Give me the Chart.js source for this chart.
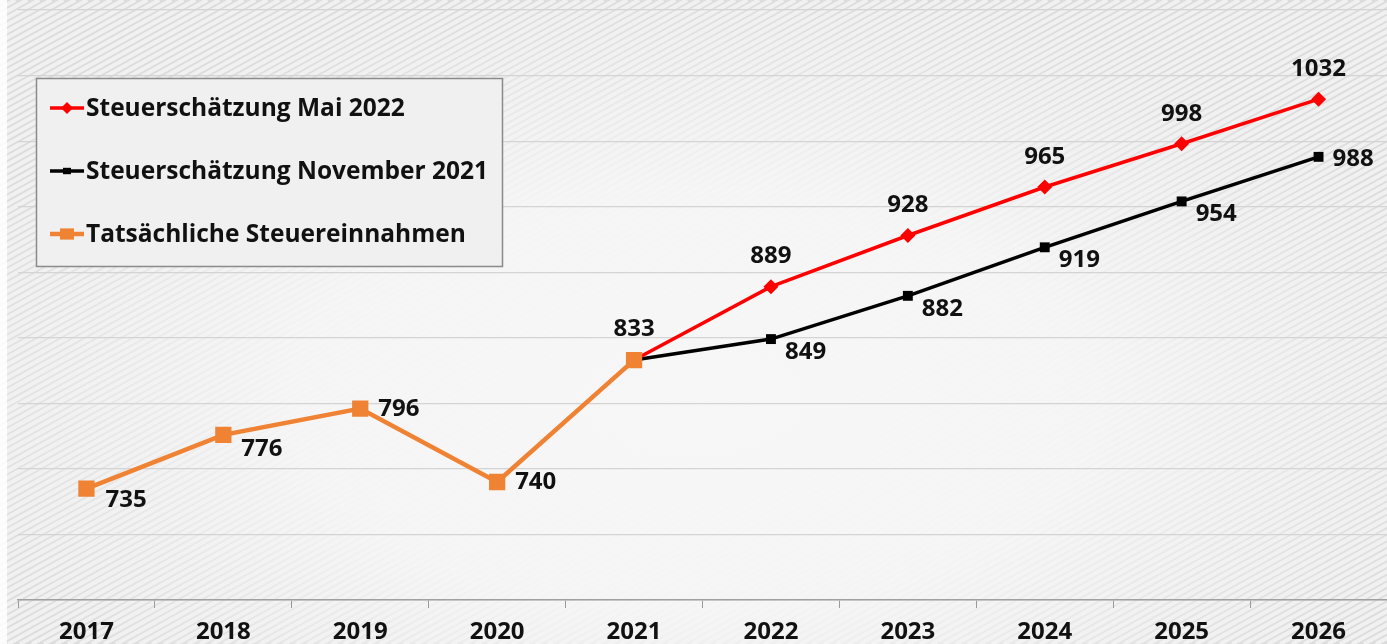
<!DOCTYPE html>
<html>
<head>
<meta charset="utf-8">
<script src="https://cdn.jsdelivr.net/npm/chart.js@4/dist/chart.umd.min.js"></script>
<style>
html,body{margin:0;padding:0;background:#fff;}
#wrap{position:relative;width:1387px;height:644px;}
</style>
</head>
<body>
<div id="wrap"><canvas id="c" width="1387" height="644"></canvas></div>
<script>
// ---- data ----
const years = ['2017','2018','2019','2020','2021','2022','2023','2024','2025','2026'];
const mai2022 = [null, null, null, null, 833, 889, 928, 965, 998, 1032];
const nov2021 = [null, null, null, null, 833, 849, 882, 919, 954, 988];
const actual  = [735, 776, 796, 740, 833, null, null, null, null, null];
const seriesNames = ['Steuerschätzung Mai 2022', 'Steuerschätzung November 2021', 'Tatsächliche Steuereinnahmen'];
const yMin = 650, yMax = 1100, yStep = 50;

const FONT = '"Open Sans", "Noto Sans", sans-serif';

// background plugin
const bgPlugin = {
  id: 'bg',
  beforeDraw(chart) {
    const ctx = chart.ctx, W = chart.width, H = chart.height;
    ctx.save();
    ctx.fillStyle = '#dcdcdc';
    ctx.fillRect(0, 0, W, H);
    ctx.strokeStyle = 'rgba(255,255,255,0.6)';
    ctx.lineWidth = 4;
    for (let k = -H * 2; k < W + H * 2; k += 12) {
      ctx.beginPath();
      ctx.moveTo(k, H);
      ctx.lineTo(k + H * 1.8, 0);
      ctx.stroke();
    }
    ctx.translate(W / 2, H * 0.62);
    ctx.scale(1.9, 1);
    const g = ctx.createRadialGradient(0, 0, 0, 0, 0, 420);
    g.addColorStop(0, 'rgba(247,247,247,1)');
    g.addColorStop(0.5, 'rgba(246,246,246,0.92)');
    g.addColorStop(1, 'rgba(240,240,240,0)');
    ctx.fillStyle = g;
    ctx.fillRect(-W, -H, 2 * W, 2 * H);
    ctx.restore();
    ctx.save();
    ctx.fillStyle = 'rgba(255,255,255,0.85)';
    ctx.fillRect(0, 0, 7, H);
    ctx.restore();
  }
};

// value labels
const labelPlugin = {
  id: 'vals',
  afterDatasetsDraw(chart, args, opts) {
    const ctx = chart.ctx;
    ctx.save();
    ctx.font = 'bold 24px ' + FONT;
    ctx.fillStyle = '#111';
    chart.data.datasets.forEach((ds, di) => {
      const meta = chart.getDatasetMeta(di);
      const pl = opts.place[di];
      ds.data.forEach((v, i) => {
        if (v == null || !pl[i]) return;
        const p = meta.data[i];
        const [mode, dx, dy] = pl[i];
        ctx.textAlign = mode;
        ctx.textBaseline = 'middle';
        ctx.fillText(String(v), p.x + dx, p.y + dy);
      });
    });
    ctx.restore();
  }
};

// custom legend box
const legendPlugin = {
  id: 'boxLegend',
  afterDraw(chart) {
    const ctx = chart.ctx;
    const x0 = 36, y0 = 78, w = 466, h = 188;
    ctx.save();
    ctx.fillStyle = '#f0f0f0';
    ctx.fillRect(x0, y0, w, h);
    ctx.strokeStyle = '#8a8a8a';
    ctx.lineWidth = 1.5;
    ctx.strokeRect(x0 + 0.5, y0 + 0.5, w, h);
    [0, 1, 2].forEach((di, r) => {
      const ds = chart.data.datasets[di];
      const cy = y0 + 30 + r * 63;
      ctx.strokeStyle = ds.borderColor;
      ctx.lineWidth = ds.borderWidth;
      ctx.beginPath();
      ctx.moveTo(50, cy);
      ctx.lineTo(84, cy);
      ctx.stroke();
      ctx.fillStyle = ds.pointBackgroundColor;
      const mr = ds.legendMarker;
      if (ds.pointStyle === 'rectRot') {
        ctx.beginPath();
        ctx.moveTo(67, cy - mr); ctx.lineTo(67 + mr, cy); ctx.lineTo(67, cy + mr); ctx.lineTo(67 - mr, cy);
        ctx.closePath(); ctx.fill();
      } else {
        ctx.fillRect(67 - mr, cy - mr * 0.8, 2 * mr, 1.6 * mr);
      }
      ctx.fillStyle = '#111';
      ctx.font = 'bold 24.5px ' + FONT;
      ctx.textAlign = 'left';
      ctx.textBaseline = 'middle';
      ctx.fillText(ds.label, 86, cy + 1);
    });
    ctx.restore();
  }
};

new Chart(document.getElementById('c'), {
  type: 'line',
  data: {
    labels: years,
    datasets: [
      {
        label: seriesNames[0], data: mai2022, order: 1,
        borderColor: '#ff0000', backgroundColor: '#ff0000', pointBackgroundColor: '#ff0000',
        borderWidth: 3.5, pointStyle: 'rectRot', legendMarker: 6,
        pointRadius: [0,0,0,0,0,7.5,7.5,7.5,7.5,7.5], pointBorderWidth: 0, tension: 0
      },
      {
        label: seriesNames[1], data: nov2021, order: 2,
        borderColor: '#000000', backgroundColor: '#000000', pointBackgroundColor: '#000000',
        borderWidth: 3.5, pointStyle: 'rect', legendMarker: 4,
        pointRadius: [0,0,0,0,0,7,7,7,7,7], pointBorderWidth: 0, tension: 0
      },
      {
        label: seriesNames[2], data: actual, order: 0,
        borderColor: '#ef8233', backgroundColor: '#ef8233', pointBackgroundColor: '#ef8233',
        borderWidth: 4.5, pointStyle: 'rect', legendMarker: 7,
        pointRadius: 11.5, pointBorderWidth: 0, tension: 0
      }
    ]
  },
  options: {
    responsive: false,
    animation: false,
    events: [],
    layout: { autoPadding: false, padding: { left: 18, right: 0, top: 10, bottom: 0 } },
    plugins: {
      legend: { display: false },
      tooltip: { enabled: false },
      vals: {
        place: [
          [null, null, null, null, null, ['center',0,-30], ['center',0,-30], ['center',0,-30], ['center',0,-30], ['center',0,-30]],
          [null, null, null, null, null, ['left',14,13], ['left',14,13], ['left',14,13], ['left',14,13], ['left',14,2]],
          [['left',19,12], ['left',18,14], ['left',18,1], ['left',18,0], ['center',0,-31], null, null, null, null, null]
        ]
      }
    },
    scales: {
      x: {
        offset: true,
        grid: { offset: true, drawOnChartArea: false, tickLength: 8, color: '#9a9a9a', lineWidth: 1 },
        border: { color: '#a0a0a0', width: 1.5 },
        ticks: { color: '#111', font: { family: FONT, size: 24, weight: 'bold' }, padding: 10, maxRotation: 0 },
        afterFit(s) { s.height = 44; }
      },
      y: {
        min: yMin, max: yMax,
        ticks: { display: false, stepSize: yStep },
        grid: { color: '#d4d4d4', lineWidth: 1.2, drawTicks: false },
        border: { display: false },
        afterFit(s) { s.width = 0; }
      }
    }
  },
  plugins: [bgPlugin, labelPlugin, legendPlugin]
});
</script>
</body>
</html>
